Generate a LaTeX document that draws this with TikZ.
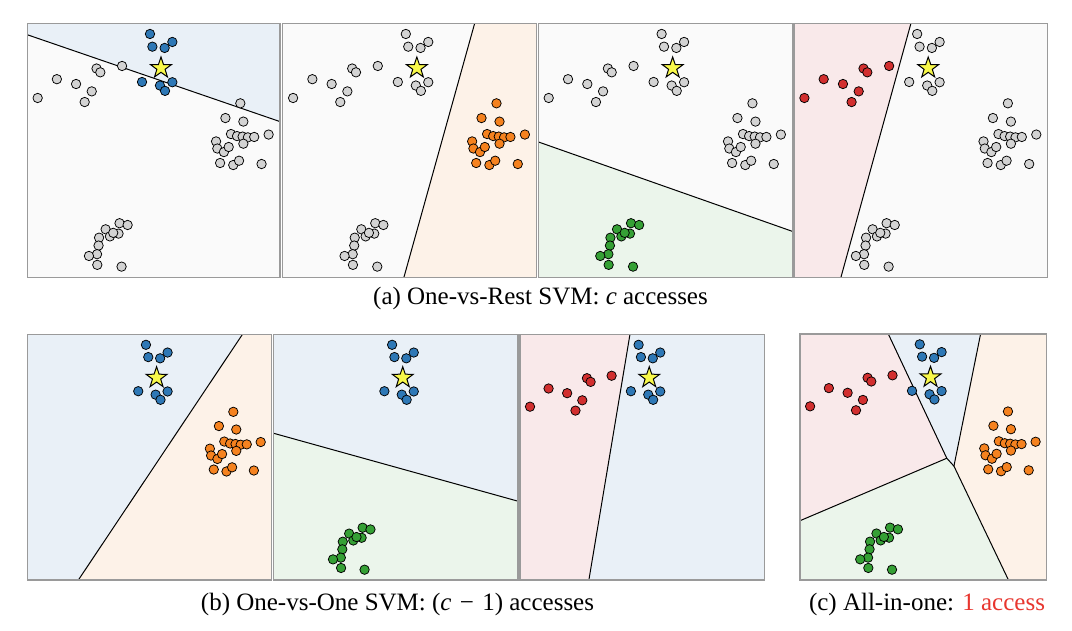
\documentclass[tikz,border=0pt]{standalone}
\usepackage{fontspec}
\setmainfont{Liberation Serif}
\usetikzlibrary{shapes.geometric}
\definecolor{cB}{HTML}{2E78B6}
\definecolor{cO}{HTML}{F5821F}
\definecolor{cG}{HTML}{35A035}
\definecolor{cR}{HTML}{D22F2F}
\definecolor{cN}{HTML}{D3D3D3}
\definecolor{lB}{HTML}{E9F0F7}
\definecolor{lO}{HTML}{FDF2E8}
\definecolor{lG}{HTML}{EBF5EB}
\definecolor{lR}{HTML}{F9E9EA}
\definecolor{lN}{HTML}{FAFAFA}
\definecolor{frameC}{HTML}{9A9A9A}
\definecolor{accC}{HTML}{E8362F}
\definecolor{starC}{HTML}{F8F84A}
\def\Bpts{0.4855/0.042,0.495/0.092,0.5435/0.097,0.574/0.0735,0.454/0.231,0.525/0.245,0.574/0.232,0.545/0.266}
\def\Rpts{0.274/0.178,0.289/0.193,0.375/0.168,0.117/0.220,0.193/0.239,0.255/0.268,0.227/0.310,0.041/0.294}
\def\Opts{0.843/0.315,0.784/0.373,0.855/0.387,0.806/0.436,0.830/0.444,0.852/0.446,0.873/0.449,0.898/0.4475,0.955/0.438,0.747/0.465,0.752/0.493,0.778/0.507,0.797/0.487,0.855/0.474,0.763/0.550,0.815/0.558,0.838/0.541,0.927/0.554}
\def\Gpts{0.365/0.787,0.397/0.794,0.310/0.811,0.327/0.839,0.361/0.828,0.340/0.825,0.284/0.844,0.282/0.875,0.276/0.909,0.244/0.916,0.277/0.951,0.373/0.958}
\newcommand\mypts[2]{\foreach \u/\v in #1 {\filldraw[fill=#2, draw=black, line width=0.75pt] (\u,\v) circle[radius=4.7pt];}}
\newcommand\mystar[1]{\node[starmark] (#1) at (0.529,0.176) {};}
\newcommand\myframe{\draw[frame] (0,0) rectangle (1,1);}
\tikzset{
  starmark/.style={star, star points=5, star point ratio=2.55, minimum size=22pt, inner sep=0pt, fill=starC, draw=black, line width=1pt},
  frame/.style={draw=frameC, line width=1.5pt},
  bound/.style={draw=black, line width=1pt},
  captext/.style={font=\fontsize{25}{30}\selectfont, anchor=center}
}
\begin{document}
\begin{tikzpicture}[x=1pt,y=-1pt]
\useasboundingbox (0,0) rectangle (1072,630);
\fill[white] (0,0) rectangle (1072,630);
% ---------- Panel 1 ----------
\begin{scope}[shift={(27.3,23.3)}, x=252.7pt, y=-254pt]
  \fill[lN] (0,0) rectangle (1,1);
  \fill[lB] (0,0) -- (0,0.045) -- (1,0.387) -- (1,0) -- cycle;
  \draw[bound] (0,0.045) -- (1,0.387);
  \mypts{\Bpts}{cB}\mypts{\Rpts}{cN}\mypts{\Opts}{cN}\mypts{\Gpts}{cN}
  \mystar{s1}
  \myframe
\end{scope}
% ---------- Panel 2 ----------
\begin{scope}[shift={(282.7,23.3)}, x=253.6pt, y=-254pt]
  \fill[lN] (0,0) rectangle (1,1);
  \fill[lO] (0.757,0) -- (1,0) -- (1,1) -- (0.478,1) -- cycle;
  \draw[bound] (0.757,0) -- (0.478,1);
  \mypts{\Bpts}{cN}\mypts{\Rpts}{cN}\mypts{\Opts}{cO}\mypts{\Gpts}{cN}
  \mystar{s2}
  \myframe
\end{scope}
% ---------- Panel 3 ----------
\begin{scope}[shift={(538.3,23.3)}, x=254pt, y=-254pt]
  \fill[lN] (0,0) rectangle (1,1);
  \fill[lG] (0,0.467) -- (1,0.819) -- (1,1) -- (0,1) -- cycle;
  \draw[bound] (0,0.467) -- (1,0.819);
  \mypts{\Bpts}{cN}\mypts{\Rpts}{cN}\mypts{\Opts}{cN}\mypts{\Gpts}{cG}
  \mystar{s3}
  \myframe
\end{scope}
% ---------- Panel 4 ----------
\begin{scope}[shift={(794,23.3)}, x=253.7pt, y=-254pt]
  \fill[lN] (0,0) rectangle (1,1);
  \fill[lR] (0,0) -- (0.461,0) -- (0.185,1) -- (0,1) -- cycle;
  \draw[bound] (0.461,0) -- (0.185,1);
  \mypts{\Bpts}{cN}\mypts{\Rpts}{cR}\mypts{\Opts}{cN}\mypts{\Gpts}{cN}
  \mystar{s4}
  \myframe
\end{scope}
% ---------- Panel 5 ----------
\begin{scope}[shift={(27.3,334.5)}, x=244.4pt, y=-245.5pt]
  \fill[lB] (0,0) rectangle (1,1);
  \fill[lO] (0.880,0) -- (1,0) -- (1,1) -- (0.209,1) -- cycle;
  \draw[bound] (0.880,0) -- (0.209,1);
  \mypts{\Bpts}{cB}\mypts{\Opts}{cO}
  \mystar{s5}
  \myframe
\end{scope}
% ---------- Panel 6 ----------
\begin{scope}[shift={(273.3,334.5)}, x=244.7pt, y=-245.5pt]
  \fill[lB] (0,0) rectangle (1,1);
  \fill[lG] (0,0.402) -- (1,0.679) -- (1,1) -- (0,1) -- cycle;
  \draw[bound] (0,0.402) -- (1,0.679);
  \mypts{\Bpts}{cB}\mypts{\Gpts}{cG}
  \mystar{s6}
  \myframe
\end{scope}
% ---------- Panel 7 ----------
\begin{scope}[shift={(520,334.5)}, x=244.3pt, y=-245.5pt]
  \fill[lB] (0,0) rectangle (1,1);
  \fill[lR] (0,0) -- (0.450,0) -- (0.282,1) -- (0,1) -- cycle;
  \draw[bound] (0.450,0) -- (0.282,1);
  \mypts{\Bpts}{cB}\mypts{\Rpts}{cR}
  \mystar{s7}
  \myframe
\end{scope}
% ---------- Panel 8 ----------
\begin{scope}[shift={(800,334)}, x=246.7pt, y=-246pt]
  \coordinate (j1) at (0.595,0.505);
  \coordinate (j2) at (0.624,0.537);
  \fill[lR] (0,0) -- (0.358,0) -- (j1) -- (0,0.759) -- cycle;
  \fill[lB] (0.358,0) -- (0.732,0) -- (j2) -- (j1) -- cycle;
  \fill[lO] (0.732,0) -- (1,0) -- (1,1) -- (0.845,1) -- (j2) -- cycle;
  \fill[lG] (0,0.759) -- (j1) -- (j2) -- (0.845,1) -- (0,1) -- cycle;
  \draw[bound] (0.358,0) -- (j1) -- (0,0.759);
  \draw[bound] (0.732,0) -- (j2) -- (0.845,1);
  \draw[bound] (j1) -- (j2);
  \mypts{\Bpts}{cB}\mypts{\Rpts}{cR}\mypts{\Opts}{cO}\mypts{\Gpts}{cG}
  \mystar{s8}
  \myframe
\end{scope}
% ---------- Captions ----------
\node[captext] (capa) at (540.5,298) {(a) One-vs-Rest SVM: \textit{c} accesses};
\node[captext] (capb) at (397.5,604) {(b) One-vs-One SVM: (\textit{c}\,\,−\,\,1) accesses};
\node[captext] (capc) at (927,604) {(c) All-in-one: \textcolor{accC}{1 access}};
\end{tikzpicture}
\end{document}
